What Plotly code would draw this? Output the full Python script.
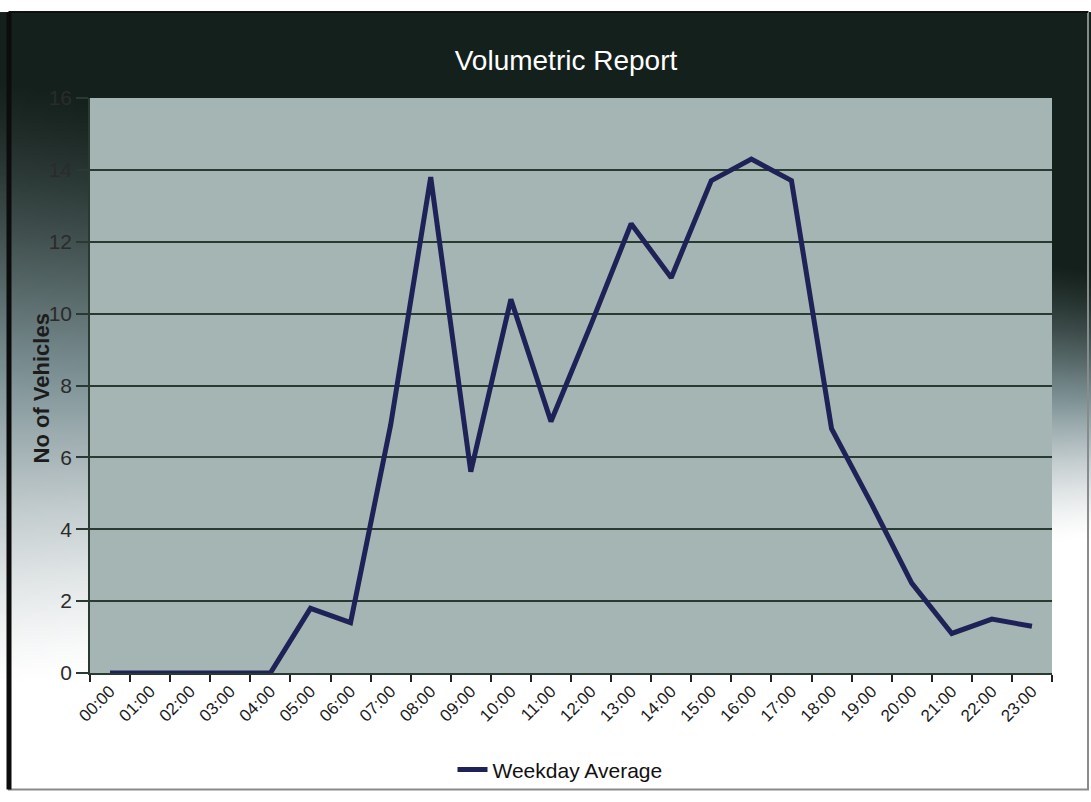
import base64
import struct
import zlib

import numpy as np
import plotly.graph_objects as go

# Hourly weekday average vehicle counts
hours = [f"{h:02d}:00" for h in range(24)]
weekday_average = [0, 0, 0, 0, 0, 1.8, 1.4, 6.9, 13.8, 5.6, 10.4, 7.0,
                   9.7, 12.5, 11.0, 13.7, 14.3, 13.7, 6.8, 4.7, 2.5, 1.1, 1.5, 1.3]
y_ticks = [0, 2, 4, 6, 8, 10, 12, 14, 16]

W, H = 1091, 802
ML, MR, MT, MB = 90, 39, 98, 122
PW, PH = W - ML - MR, H - MT - MB
TOP = 11  # top edge of the framed chart area


def png_data_uri(rgb):
    """Encode an HxWx3 uint8 array as a PNG data URI."""
    h, w, _ = rgb.shape
    raw = b"".join(b"\x00" + rgb[r].tobytes() for r in range(h))

    def chunk(tag, data):
        c = struct.pack(">I", len(data)) + tag + data
        return c + struct.pack(">I", zlib.crc32(tag + data) & 0xFFFFFFFF)

    png = (b"\x89PNG\r\n\x1a\n"
           + chunk(b"IHDR", struct.pack(">IIBBBBB", w, h, 8, 2, 0, 0, 0))
           + chunk(b"IDAT", zlib.compress(raw, 9))
           + chunk(b"IEND", b""))
    return "data:image/png;base64," + base64.b64encode(png).decode()


# Dark-to-white background gradient: long and gentle on the left,
# later and steeper on the right
gw, gh = 273, 200
xs = np.linspace(0, 1, gw)[None, :]
ys = np.linspace(TOP, H, gh)[:, None]
y0 = 75 + 195 * xs
y1 = 690 - 150 * xs
t = np.clip((ys - y0) / (y1 - y0), 0, 1)
t = 0.5 * t + 0.5 * (t * t * (3 - 2 * t))
dark = np.array([20, 32, 27], float)
mid = np.array([128, 148, 152], float)
white = np.array([255, 255, 255], float)
t3 = t[..., None]
lo = dark + (mid - dark) * np.clip(t3 * 2, 0, 1)
col = np.where(t3 < 0.5, lo, mid + (white - mid) * np.clip(t3 * 2 - 1, 0, 1))
bg_img = png_data_uri(col.astype(np.uint8))

fig = go.Figure()
fig.add_trace(go.Scatter(
    x=hours, y=weekday_average, mode="lines", name="Weekday Average",
    line=dict(color="#1e2257", width=5),
))

fig.add_layout_image(dict(
    source=bg_img, xref="paper", yref="paper",
    x=-ML / PW, y=1 + (MT - TOP) / PH, sizex=W / PW, sizey=(H - TOP) / PH,
    xanchor="left", yanchor="top", sizing="stretch", layer="below",
))

# Plot area fill, above the background gradient but under the gridlines
fig.add_shape(type="rect", xref="paper", yref="paper", x0=0, x1=1, y0=0, y1=1,
              fillcolor="#a4b5b4", line=dict(width=0), layer="below")

# Outer frame
fig.add_shape(type="rect", xref="paper", yref="paper",
              x0=-(ML - 9) / PW, x1=1 + (MR - 3) / PW,
              y0=-(MB - 4) / PH, y1=1 + (MT - TOP) / PH,
              line=dict(color="#8a8a8a", width=2), layer="above")
fig.add_shape(type="line", xref="paper", yref="paper",
              x0=-(ML - 9) / PW, x1=1 + (MR - 3) / PW,
              y0=1 + (MT - TOP) / PH, y1=1 + (MT - TOP) / PH,
              line=dict(color="#101010", width=2), layer="above")
fig.add_shape(type="line", xref="paper", yref="paper",
              x0=-(ML - 9) / PW, x1=-(ML - 9) / PW,
              y0=-(MB - 4) / PH, y1=1 + (MT - TOP) / PH,
              line=dict(color="#0c0c0c", width=5), layer="above")

fig.add_annotation(text="<b>No of Vehicles</b>", textangle=-90,
                   xref="paper", yref="paper",
                   x=-(ML - 41) / PW, y=(680 - 392) / PH,
                   showarrow=False, xanchor="center", yanchor="middle",
                   font=dict(family="Liberation Sans, Arial", size=22, color="#1c1c1c"))

fig.update_layout(
    width=W, height=H,
    margin=dict(l=ML, r=MR, t=MT, b=MB),
    paper_bgcolor="white",
    plot_bgcolor="rgba(0,0,0,0)",
    title=dict(text="Volumetric Report", x=566 / W, xanchor="center",
               y=1 - 60 / H, yanchor="middle",
               font=dict(family="Liberation Sans, Arial", size=28, color="white")),
    showlegend=True,
    legend=dict(orientation="h", x=(560 - ML) / PW, xanchor="center",
                y=-(778 - 680) / PH, yanchor="middle",
                font=dict(family="Liberation Sans, Arial", size=21, color="#111111"),
                bgcolor="rgba(0,0,0,0)"),
    font=dict(family="Liberation Sans, Arial"),
)

fig.update_xaxes(
    type="category", tickson="boundaries", ticks="outside", ticklen=7,
    tickcolor="#222222", tickwidth=1.5, showgrid=False,
    showline=True, linecolor="#2a3a33", linewidth=1.5,
    tickangle=-45, tickfont=dict(size=17, color="#1a1a1a"),
    range=[-0.5, 23.5],
)
fig.update_yaxes(
    range=[0, 16], tickvals=y_ticks, ticks="outside", ticklen=12,
    tickcolor="#2a3a33", tickwidth=1.5,
    showgrid=True, gridcolor="#2a3a33", gridwidth=1.5,
    showline=True, linecolor="#2a3a33", linewidth=1.5,
    zeroline=False, tickfont=dict(size=21, color="#2b2b2b"),
)

fig.write_html("out.html")
